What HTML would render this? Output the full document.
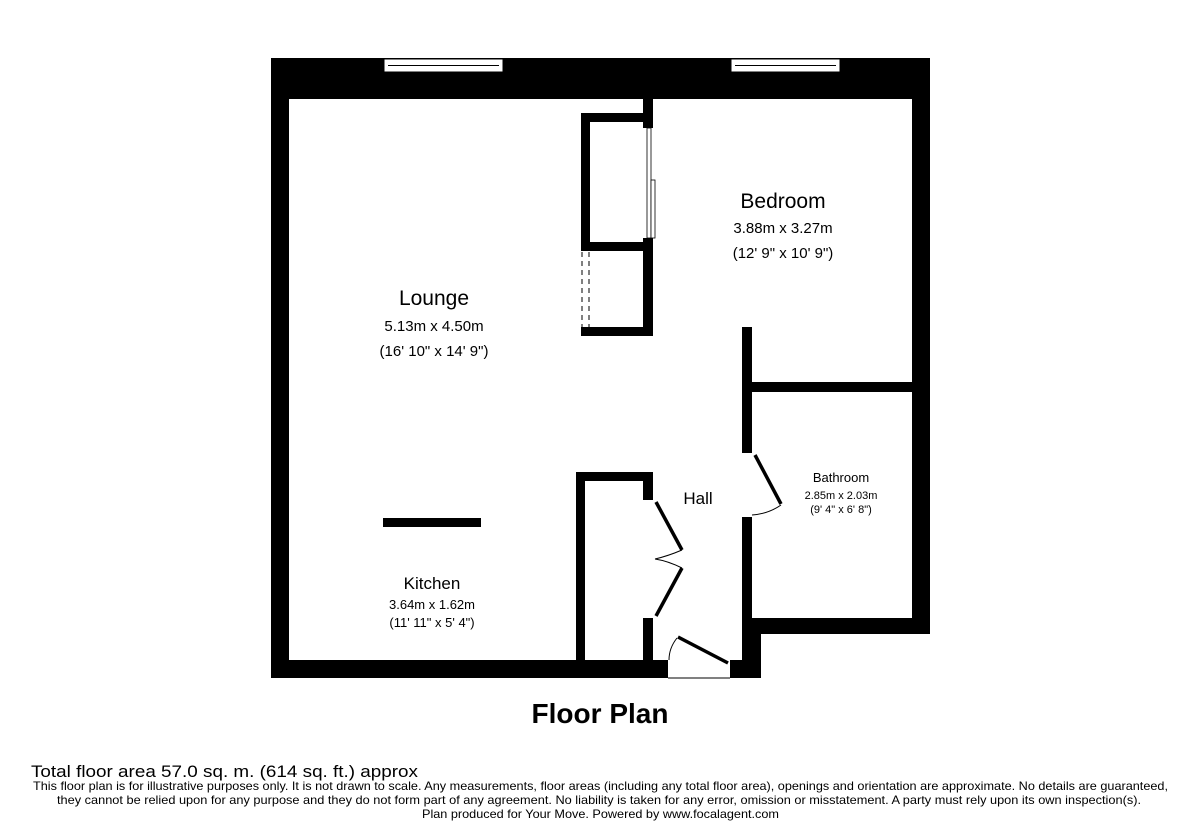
<!DOCTYPE html>
<html><head><meta charset="utf-8"><style>html,body{margin:0;padding:0;background:#fff}svg{display:block}</style></head>
<body>
<svg width="1200" height="840" viewBox="0 0 1200 840" xmlns="http://www.w3.org/2000/svg" font-family="Liberation Sans, Arial, sans-serif">
<g fill="#000">
<!-- top band -->
<rect x="271" y="58" width="659" height="42"/>
<!-- left wall -->
<rect x="271" y="58" width="18" height="620"/>
<!-- right wall -->
<rect x="912" y="58" width="18" height="576"/>
<!-- bottom wall left part -->
<rect x="271" y="660" width="397" height="18"/>
<!-- bottom right of entrance + step -->
<rect x="730" y="660" width="31" height="18"/>
<rect x="742" y="618" width="19" height="60"/>
<rect x="742" y="618" width="188" height="16"/>
<!-- partition stub -->
<rect x="643" y="100" width="10" height="28"/>
<!-- closet -->
<rect x="581" y="113" width="72" height="9"/>
<rect x="581" y="113" width="9" height="138"/>
<rect x="581" y="242" width="72" height="9"/>
<rect x="643" y="238" width="10" height="98"/>
<rect x="581" y="327" width="72" height="9"/>
<!-- bedroom/bath wall -->
<rect x="742" y="327" width="10" height="126"/>
<rect x="742" y="382" width="170" height="10"/>
<rect x="742" y="517" width="10" height="105"/>
<!-- hall cupboard -->
<rect x="576" y="472" width="9" height="190"/>
<rect x="576" y="472" width="77" height="9"/>
<rect x="643" y="472" width="10" height="28"/>
<rect x="643" y="618" width="10" height="44"/>
<!-- kitchen counter -->
<rect x="383" y="518" width="98" height="9"/>
</g>
<!-- white gaps in top band -->
<rect x="289" y="99" width="354" height="2" fill="#fff"/>
<rect x="653" y="99" width="259" height="2" fill="#fff"/>
<!-- windows -->
<g fill="#fff" stroke="#000" stroke-width="1">
<rect x="384" y="59" width="119" height="13"/>
<rect x="731" y="59" width="109" height="13"/>
</g>
<line x1="388" y1="65.5" x2="499" y2="65.5" stroke="#000" stroke-width="1"/>
<line x1="735" y1="65.5" x2="836" y2="65.5" stroke="#000" stroke-width="1"/>
<!-- sliding doors -->
<rect x="647" y="128" width="4" height="110" fill="#fff" stroke="#000" stroke-width="0.8"/>
<rect x="651" y="180" width="4" height="58" fill="#fff" stroke="#000" stroke-width="0.8"/>
<!-- dashed -->
<g stroke="#000" stroke-width="1" stroke-dasharray="5,4">
<line x1="582" y1="252" x2="582" y2="327"/>
<line x1="589" y1="252" x2="589" y2="327"/>
</g>
<!-- doors -->
<g stroke="#000" fill="none">
<line x1="755" y1="455" x2="781" y2="504" stroke-width="3.5"/>
<path d="M781 505 Q768 514 752 515" stroke-width="1"/>
<line x1="656" y1="502" x2="682" y2="550" stroke-width="3.5"/>
<line x1="682" y1="568" x2="656" y2="616" stroke-width="3.5"/>
<path d="M682 550 Q668 556 655 559 M682 568 Q668 561 655 559" stroke-width="1"/>
<line x1="678" y1="637" x2="728" y2="663" stroke-width="3.5"/>
<path d="M677 638 Q669 648 669 660" stroke-width="1"/>
<line x1="668" y1="678" x2="730" y2="678" stroke-width="1"/>
</g>
<!-- labels -->
<g text-anchor="middle" fill="#000">
<text x="783" y="208" font-size="21">Bedroom</text>
<text x="783" y="233" font-size="15">3.88m x 3.27m</text>
<text x="783" y="258" font-size="15">(12' 9" x 10' 9")</text>
<text x="434" y="305" font-size="21">Lounge</text>
<text x="434" y="331" font-size="15">5.13m x 4.50m</text>
<text x="434" y="356" font-size="15">(16' 10" x 14' 9")</text>
<text x="698" y="504" font-size="17">Hall</text>
<text x="841" y="482" font-size="13">Bathroom</text>
<text x="841" y="499" font-size="11">2.85m x 2.03m</text>
<text x="841" y="513" font-size="11">(9' 4" x 6' 8")</text>
<text x="432" y="589" font-size="17">Kitchen</text>
<text x="432" y="609" font-size="13">3.64m x 1.62m</text>
<text x="432" y="627" font-size="13">(11' 11" x 5' 4")</text>
<text x="600" y="723" font-size="28" font-weight="bold">Floor Plan</text>
</g>
<g fill="#000">
<text x="31" y="777" font-size="17" textLength="387" lengthAdjust="spacingAndGlyphs">Total floor area 57.0 sq. m. (614 sq. ft.) approx</text>
<text x="33" y="790" font-size="12" textLength="1135" lengthAdjust="spacingAndGlyphs">This floor plan is for illustrative purposes only. It is not drawn to scale. Any measurements, floor areas (including any total floor area), openings and orientation are approximate. No details are guaranteed,</text>
<text x="57" y="804" font-size="12" textLength="1084" lengthAdjust="spacingAndGlyphs">they cannot be relied upon for any purpose and they do not form part of any agreement. No liability is taken for any error, omission or misstatement. A party must rely upon its own inspection(s).</text>
<text x="422" y="818" font-size="12" textLength="357" lengthAdjust="spacingAndGlyphs">Plan produced for Your Move. Powered by www.focalagent.com</text>
</g>
</svg>
</body></html>
